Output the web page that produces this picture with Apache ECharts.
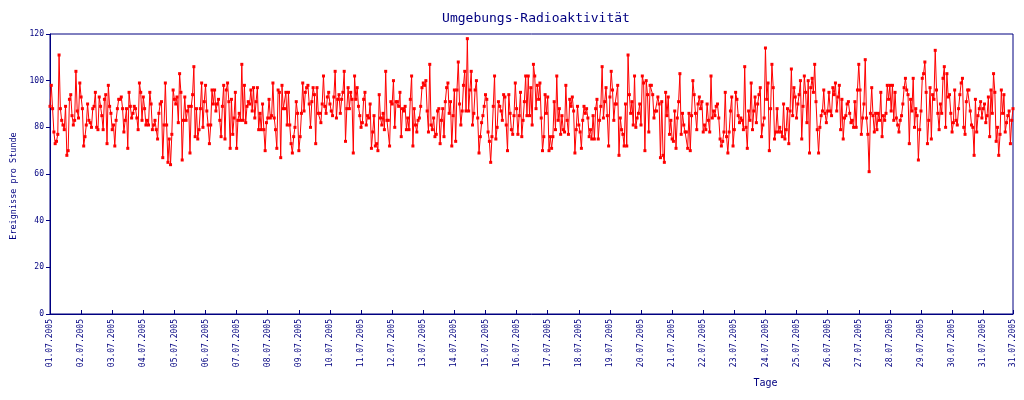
<!DOCTYPE html>
<html>
<head>
<meta charset="utf-8">
<script src="https://cdn.jsdelivr.net/npm/echarts@6/dist/echarts.min.js"></script>
<style>
html,body{margin:0;padding:0;background:#fff;}
#chart{width:1024px;height:400px;}
</style>
</head>
<body>
<div id="chart"></div>
<script>
const dayLabels = ['01.07.2005','02.07.2005','03.07.2005','04.07.2005','05.07.2005','06.07.2005','07.07.2005','08.07.2005','09.07.2005','10.07.2005','11.07.2005','12.07.2005','13.07.2005','14.07.2005','15.07.2005','16.07.2005','17.07.2005','18.07.2005','19.07.2005','20.07.2005','21.07.2005','22.07.2005','23.07.2005','24.07.2005','25.07.2005','26.07.2005','27.07.2005','28.07.2005','29.07.2005','30.07.2005','31.07.2005'];
const hoursPerDay = 24;

// Events per hour, in consecutive hourly segments
const segA = [89,98,88,78,73,74,77,111,88,83,81,79,89,68,70,92,94,85,81,83,104,87,84,99,93,88,72,76,81,90,83,82,80,88,89,95,80,79,93,89,85,79,92,94,73,98,89,86,79,81,72,83,88,92,92,93,88,78,83,88,71,95,89,84,86,89,88,84,79,99,95,83,93,88,81,83,81,95,90,79,81,83,79,75,86,90,91,67,81,99,81];
const segB = [65,75,64,77,96,92,90,93,82,103,95,66,83,93,83,87,89,69,89,94,106,76,88,75,79,88,99,80,91,98,87,81,73,81,96,90,96,87,90,92,83,76,89,98,75,96,99,91,71,92,77,84,95,71,83,86,83,107,83,98,82,89,91,90,96,87,97,84,91,97,79,86,79,90,79,70,82,84,92,84,85,99,84,79,71,96,95,67,98,88,88,95,81];
const segC = [95,81,73,69,76,80,91,86,70,76,86,99,87,95,97,98,90,80,91,97,94,73,97,86,86,82,90,102,89,86,93,95,90,87,85,93,104,84,92,94,86,92,95,104,74,88,97,88,95,92,69,102,92,97,89,85,80,82,92,95,81,85,84,90,71,78,85,72,73,70,94,84,81,86,79,104,83,83,72,91,90,100,80,91,91,89,95,76,88,87,89,79];
const segD = [84,79,92,102,72,88,81,78,83,84,89,97,99,98,100,87,78,107,81,79,84,76,77,87,88,73,83,88,76,91,97,99,86,91,72,85,96,74,96,108,90,81,87,98,104,87,118,87,96,104,81,86,96,100,84,69,76,82,85,89,94,92,78,74,65,76,89,102,75,80,91,89,87,83,94,93,81,70,94,86,79,77,85,99,88,77,85,95,76,83,91,102,85];
const segE = [102,85,97,81,107,102,88,98,92,99,84,70,76,94,86,93,70,76,71,76,91,79,102,83,88,77,85,79,78,98,83,77,92,89,93,87,69,79,89,81,78,71,83,89,86,88,84,76,79,75,85,75,88,92,75,83,89,106,84,91,97,85,72,93,104,96,83,90,90,98,68,84,79,77,72,90,72,111,94,86,91,81,102,80,84,86,90,81,102,99,70,100];
const segF = [94,78,98,98,94,84,87,87,93,90,67,91,68,65,95,85,93,77,83,75,74,87,71,84,91,103,77,86,81,78,78,71,86,70,85,100,94,86,79,90,93,88,91,78,81,79,90,83,78,102,84,87,85,89,90,84,75,72,74,78,95,76,69,78,87,93,72,79,95,92,85,82,84,83,79,106,80,71,87,83,99,79,87,93,82,90,94,97,76,81,84,114,92];
const segG = [99,70,88,107,97,75,78,88,78,80,78,76,90,75,79,88,73,87,105,85,97,93,84,90,94,100,75,89,102,95,82,100,69,97,101,95,107,91,79,69,80,85,87,96,86,82,87,95,87,85,97,94,99,87,93,98,79,92,75,84,85,90,91,86,82,83,80,91,80,96,107,96,77,84,90,109,84,77,61,86,97,85,78,86,79,86,83,95,76,85,83,86];
const segH = [98,92,98,87,98,83,95,84,81,78,83,85,90,97,101,96,94,73,92,87,101,80,88,85,66,79,87,101,103,108,95,73,83,97,75,94,92,113,96,86,79,90,86,101,106,80,103,93,94,86,78,82,96,83,81,88,94,99,101,80,77,91,96,96,87,81,80,68,92,78,85,88,91,84,88,90,82,85,93,76,96,86,103,95,74,80,68,77,96,86,94,78,82,85,87,73,83,88];

const values = [].concat(segA, segB, segC, segD, segE, segF, segG, segH);
const hours = values.map((v, i) => dayLabels[Math.floor(i / hoursPerDay)] + ' ' + String(i % hoursPerDay).padStart(2, '0') + ':00');
const lastIdx = values.length - 1;
const showIdx = (i) => i % hoursPerDay === 0 || i === lastIdx;

const navy = '#000080';
const mono = '"DejaVu Sans Mono", "Liberation Mono", monospace';

const chart = echarts.init(document.getElementById('chart'), null, {renderer: 'canvas'});
chart.setOption({
  animation: false,
  backgroundColor: '#ffffff',
  title: {
    text: 'Umgebungs-Radioaktivität',
    left: 531, top: 7, textAlign: 'center',
    textStyle: {color: navy, fontFamily: mono, fontSize: 13, fontWeight: 'normal'}
  },
  grid: {left: 50, right: 11, top: 34, bottom: 86, show: true, borderColor: navy, borderWidth: 1, backgroundColor: 'transparent'},
  xAxis: {
    type: 'category',
    data: hours,
    boundaryGap: false,
    name: 'Tage',
    nameLocation: 'middle',
    nameGap: 64,
    nameTextStyle: {color: navy, fontFamily: mono, fontSize: 10, padding: [0, 0, 0, 468]},
    axisLine: {lineStyle: {color: navy, width: 1}},
    axisTick: {inside: true, length: 4, interval: showIdx, lineStyle: {color: navy}},
    axisLabel: {
      interval: showIdx, rotate: 90, color: navy, fontFamily: mono, fontSize: 8, margin: 5,
      formatter: (v) => v.slice(0, 10)
    },
    splitLine: {show: false}
  },
  yAxis: {
    type: 'value',
    min: 0, max: 120, interval: 20,
    name: 'Ereignisse pro Stunde',
    nameLocation: 'middle',
    nameGap: 30,
    nameTextStyle: {color: navy, fontFamily: mono, fontSize: 8.5, padding: [0, 24, 0, 0]},
    axisLine: {show: true, lineStyle: {color: navy, width: 1}},
    axisTick: {show: true, inside: false, length: 4, lineStyle: {color: navy}},
    axisLabel: {color: navy, fontFamily: mono, fontSize: 8, margin: 6},
    splitLine: {show: false}
  },
  series: [{
    type: 'line',
    data: values,
    showAllSymbol: true,
    symbol: 'rect',
    symbolSize: 3,
    lineStyle: {color: '#ff0000', width: 1},
    itemStyle: {color: '#ff0000'},
    emphasis: {disabled: true}
  }]
});
</script>
</body>
</html>
